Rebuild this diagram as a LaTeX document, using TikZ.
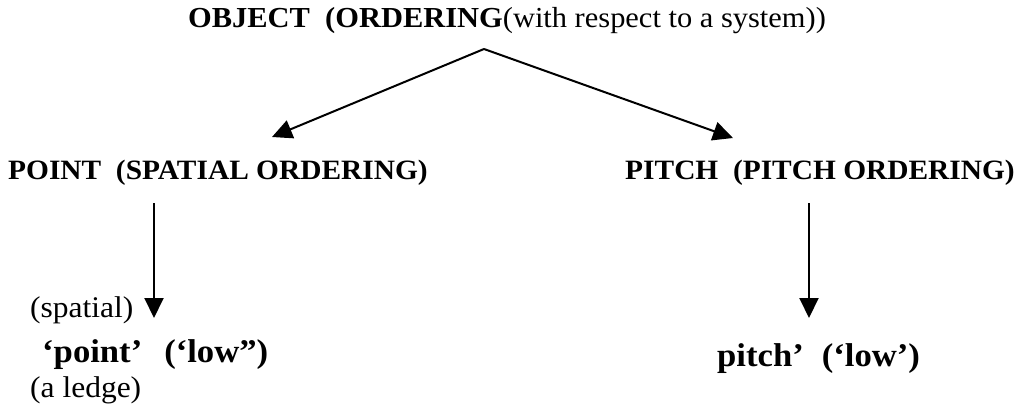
\documentclass[tikz,border=0pt]{standalone}
\usepackage{fontspec}
\setmainfont[FakeStretch=1.05]{Liberation Serif}
\usetikzlibrary{arrows.meta}
\tikzset{every node/.style={inner sep=0pt, font=\fontsize{28}{32}\selectfont},
  big/.style={font=\fontsize{33}{38}\selectfont\bfseries},
  note/.style={font=\fontsize{30}{34}\selectfont},
  arr/.style={-{Triangle[length=20pt, width=19pt]}, line width=2pt}}

\begin{document}
\begin{tikzpicture}[x=1pt, y=-1pt]
  \useasboundingbox (0, 0) rectangle (1018, 404);

  % headings
  \node[anchor=base west, font=\fontsize{29}{33}\selectfont] at (188, 28) (object)
    {\textbf{OBJECT\ \ (ORDERING}(with respect to a system))};
  \node[anchor=base west] at (8, 179) (point)
    {\textbf{POINT\ \ (SPATIAL ORDERING)}};
  \node[anchor=base east] at (1015, 179) (pitch)
    {\textbf{PITCH\ \ (PITCH ORDERING)}};

  % lower items
  \node[note, anchor=base west] at (30, 317) (spatial) {(spatial)};
  \node[big, anchor=base west] at (42, 362) (pointlow)
    {`point'\hspace{22pt}(`low'')};
  \node[note, anchor=base west] at (30, 397) (ledge) {(a ledge)};
  \node[big, anchor=base west] at (717, 366) (pitchlow)
    {pitch'\hspace{18pt}(`low')};

  % arrows
  \coordinate (fork) at (484, 49);
  \coordinate (pointin) at (272, 137);
  \coordinate (pitchin) at (733, 138);
  \draw[arr] (fork) -- (pointin);
  \draw[arr] (fork) -- (pitchin);

  \coordinate (pointout) at (154, 203);
  \coordinate (pitchout) at (809, 203);
  \draw[arr] (pointout) -- (pointout |- 0, 318);
  \draw[arr] (pitchout) -- (pitchout |- 0, 318);
\end{tikzpicture}
\end{document}
